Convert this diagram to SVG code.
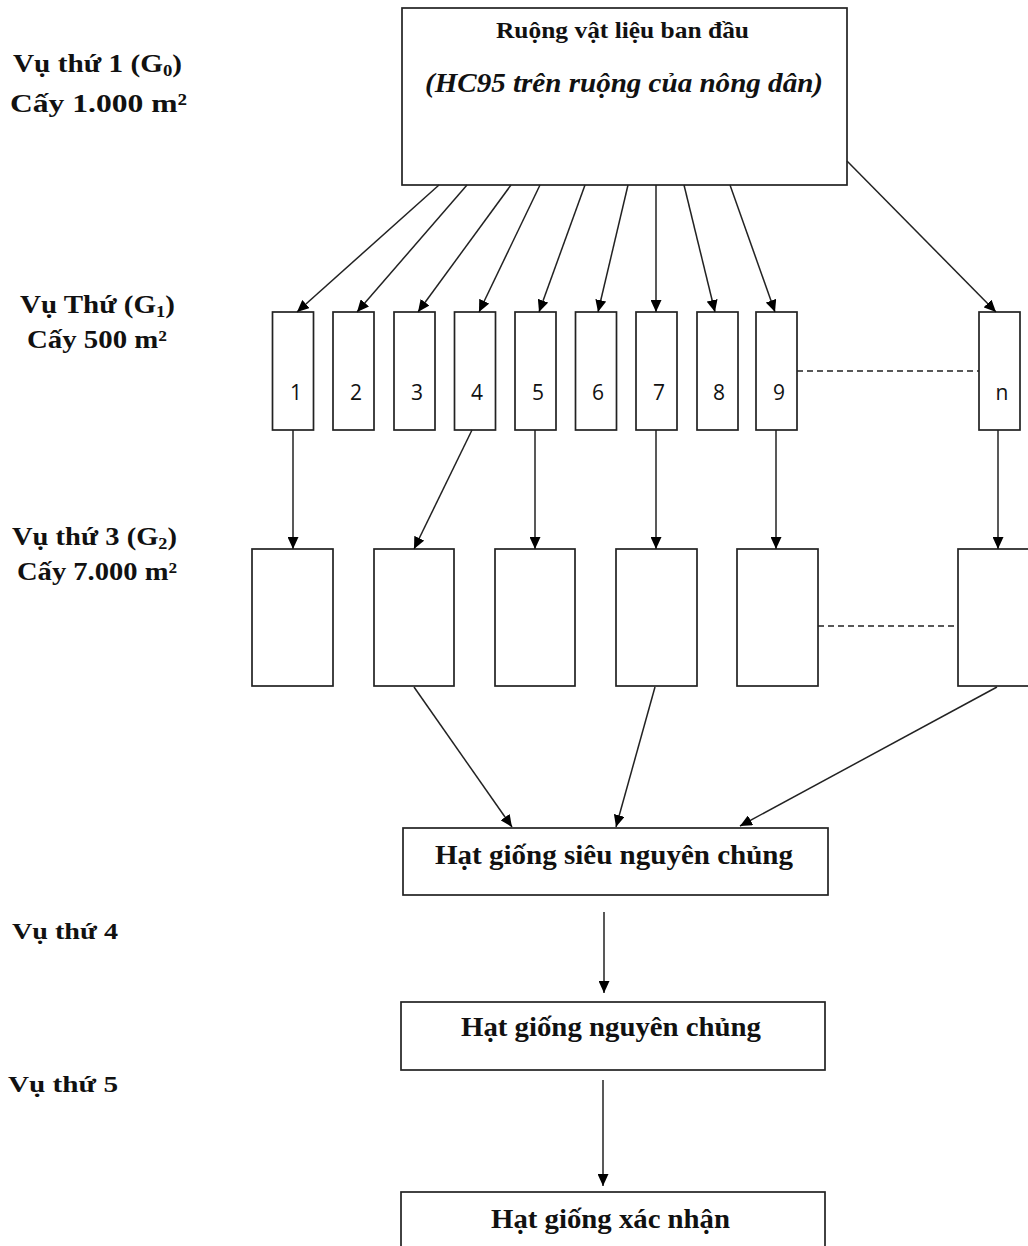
<svg xmlns="http://www.w3.org/2000/svg" width="1028" height="1246" viewBox="0 0 1028 1246">
<defs>
<marker id="ah" markerUnits="userSpaceOnUse" markerWidth="12" markerHeight="11" refX="12" refY="5.5" orient="auto">
<path d="M0,0 L12,5.5 L0,11 z" fill="#000"/>
</marker>
<style>
.box{fill:#fff;stroke:#222;stroke-width:1.7}
.lbl{font-family:"Liberation Serif","Times New Roman",serif;font-weight:bold;fill:#111}
.num{font-family:"Open Sans","Liberation Sans",sans-serif;font-size:21px;fill:#111;text-anchor:middle}
.con{stroke:#222;stroke-width:1.5;fill:none;marker-end:url(#ah)}
.dash{stroke:#222;stroke-width:1.4;stroke-dasharray:6 4;fill:none}
</style>
</defs>
<rect width="1028" height="1246" fill="#fff"/>

<g id="labels">
<text class="lbl" x="13" y="72" font-size="25" textLength="169" lengthAdjust="spacingAndGlyphs">Vụ  thứ 1 (G<tspan font-size="16" dy="4">0</tspan><tspan dy="-4">)</tspan></text>
<text class="lbl" x="10" y="112" font-size="26" textLength="177" lengthAdjust="spacingAndGlyphs">Cấy 1.000 m²</text>
<text class="lbl" x="20" y="313" font-size="25" textLength="155" lengthAdjust="spacingAndGlyphs">Vụ  Thứ (G<tspan font-size="16" dy="4">1</tspan><tspan dy="-4">)</tspan></text>
<text class="lbl" x="27" y="348" font-size="25" textLength="140" lengthAdjust="spacingAndGlyphs">Cấy 500 m²</text>
<text class="lbl" x="12" y="545" font-size="25" textLength="165" lengthAdjust="spacingAndGlyphs">Vụ  thứ 3 (G<tspan font-size="16" dy="4">2</tspan><tspan dy="-4">)</tspan></text>
<text class="lbl" x="17" y="580" font-size="25" textLength="160" lengthAdjust="spacingAndGlyphs">Cấy 7.000 m²</text>
<text class="lbl" x="12" y="939" font-size="24" textLength="106" lengthAdjust="spacingAndGlyphs">Vụ  thứ 4</text>
<text class="lbl" x="8" y="1092" font-size="24" textLength="110" lengthAdjust="spacingAndGlyphs">Vụ  thứ 5</text>
</g>

<g id="top">
<rect class="box" x="402" y="8" width="445" height="177"/>
<text class="lbl" x="496" y="38" font-size="23" textLength="253" lengthAdjust="spacingAndGlyphs">Ruộng vật liệu ban đầu</text>
<text class="lbl" x="425" y="92" font-size="28" font-style="italic" textLength="398" lengthAdjust="spacingAndGlyphs">(HC95 trên ruộng của nông dân)</text>
</g>

<g id="g1-1"><rect class="box" x="272.5" y="312" width="41" height="118"/><text class="num" x="296" y="400">1</text></g>
<g id="g1-2"><rect class="box" x="333" y="312" width="41" height="118"/><text class="num" x="356" y="400">2</text></g>
<g id="g1-3"><rect class="box" x="394" y="312" width="41" height="118"/><text class="num" x="417" y="400">3</text></g>
<g id="g1-4"><rect class="box" x="454.5" y="312" width="41" height="118"/><text class="num" x="477" y="400">4</text></g>
<g id="g1-5"><rect class="box" x="515" y="312" width="41" height="118"/><text class="num" x="538" y="400">5</text></g>
<g id="g1-6"><rect class="box" x="575.5" y="312" width="41" height="118"/><text class="num" x="598" y="400">6</text></g>
<g id="g1-7"><rect class="box" x="636" y="312" width="41" height="118"/><text class="num" x="659" y="400">7</text></g>
<g id="g1-8"><rect class="box" x="697" y="312" width="41" height="118"/><text class="num" x="719" y="400">8</text></g>
<g id="g1-9"><rect class="box" x="756" y="312" width="41" height="118"/><text class="num" x="779" y="400">9</text></g>
<g id="g1-n"><rect class="box" x="979" y="312" width="41" height="118"/><text class="num" x="1002" y="400">n</text></g>

<g id="g2-a"><rect class="box" x="252" y="549" width="81" height="137"/></g>
<g id="g2-b"><rect class="box" x="374" y="549" width="80" height="137"/></g>
<g id="g2-c"><rect class="box" x="495" y="549" width="80" height="137"/></g>
<g id="g2-d"><rect class="box" x="616" y="549" width="81" height="137"/></g>
<g id="g2-e"><rect class="box" x="737" y="549" width="81" height="137"/></g>
<g id="g2-f"><rect class="box" x="958" y="549" width="80" height="137"/></g>

<g id="snc">
<rect class="box" x="403" y="828" width="425" height="67"/>
<text class="lbl" x="435" y="864" font-size="27" textLength="358" lengthAdjust="spacingAndGlyphs">Hạt giống siêu nguyên  chủng</text>
</g>
<g id="nc">
<rect class="box" x="401" y="1002" width="424" height="68"/>
<text class="lbl" x="461" y="1036" font-size="27" textLength="300" lengthAdjust="spacingAndGlyphs">Hạt giống nguyên chủng</text>
</g>
<g id="xn">
<rect class="box" x="401" y="1192" width="424" height="70"/>
<text class="lbl" x="491" y="1228" font-size="27" textLength="239" lengthAdjust="spacingAndGlyphs">Hạt giống xác nhận</text>
</g>

<g id="connectors">
<line class="con" x1="439" y1="185" x2="297" y2="312"/>
<line class="con" x1="467" y1="185" x2="357" y2="312"/>
<line class="con" x1="511" y1="185" x2="418" y2="312"/>
<line class="con" x1="540" y1="185" x2="479" y2="312"/>
<line class="con" x1="585" y1="185" x2="539" y2="312"/>
<line class="con" x1="628" y1="185" x2="598" y2="312"/>
<line class="con" x1="656" y1="185" x2="656" y2="312"/>
<line class="con" x1="684" y1="185" x2="715" y2="312"/>
<line class="con" x1="730" y1="185" x2="775" y2="312"/>
<line class="con" x1="847" y1="161" x2="996" y2="312"/>
<line class="dash" x1="797" y1="371" x2="979" y2="371"/>

<line class="con" x1="293" y1="430" x2="293" y2="549"/>
<line class="con" x1="472" y1="430" x2="414" y2="549"/>
<line class="con" x1="535" y1="430" x2="535" y2="549"/>
<line class="con" x1="656" y1="430" x2="656" y2="549"/>
<line class="con" x1="776" y1="430" x2="776" y2="549"/>
<line class="con" x1="998" y1="430" x2="998" y2="549"/>
<line class="dash" x1="818" y1="626" x2="958" y2="626"/>

<line class="con" x1="414" y1="687" x2="512" y2="827"/>
<line class="con" x1="655" y1="687" x2="616" y2="827"/>
<line class="con" x1="997" y1="687" x2="740" y2="826"/>

<line class="con" x1="604" y1="912" x2="604" y2="993"/>
<line class="con" x1="603" y1="1080" x2="603" y2="1186"/>
</g>
</svg>
